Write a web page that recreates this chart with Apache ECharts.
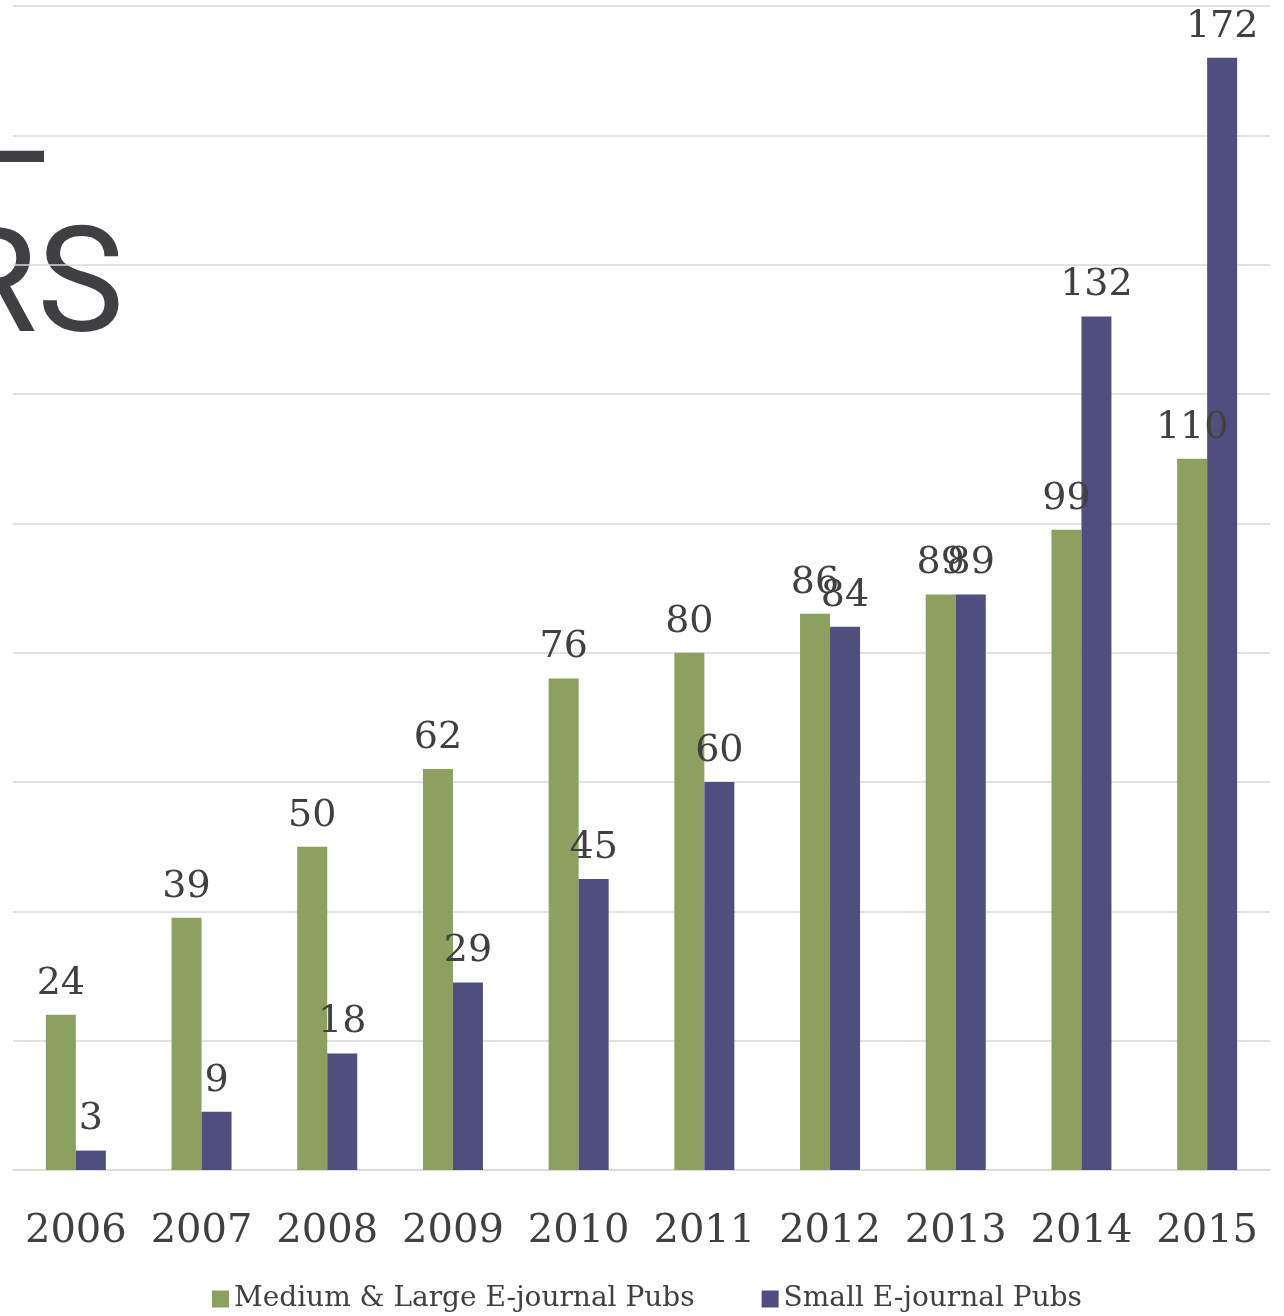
<!DOCTYPE html>
<html>
<head>
<meta charset="utf-8">
<script src="https://cdn.jsdelivr.net/npm/echarts@6/dist/echarts.min.js"></script>
<style>
html,body{margin:0;padding:0;background:#fff;}
#chart{width:1284px;height:1316px;}
</style>
</head>
<body>
<div id="chart"></div>
<script>
const years = ['2006','2007','2008','2009','2010','2011','2012','2013','2014','2015'];
const seriesNames = ['Medium & Large E-journal Pubs','Small E-journal Pubs'];
const mediumLarge = [24, 39, 50, 62, 76, 80, 86, 89, 99, 110];
const small = [3, 9, 18, 29, 45, 60, 84, 89, 132, 172];
const titleFragments = ['L', 'RS'];

const chart = echarts.init(document.getElementById('chart'), null, {renderer:'canvas'});
const textColor = '#404040';
const labelFont = 'DejaVu Serif';
const label = {
  show: true, position: 'top', distance: 12,
  color: textColor, fontFamily: labelFont, fontSize: 38
};
chart.setOption({
  animation: false,
  backgroundColor: '#ffffff',
  graphic: [
    {type:'text', x: -31, y: 198, style:{text: titleFragments[0], font:'400 146px Roboto', fill:'#404042', textAlign:'left', textVerticalAlign:'bottom'}},
    {type:'text', x: 124, y: 367, style:{text: titleFragments[1], font:'400 146px Roboto', fill:'#404042', textAlign:'right', textVerticalAlign:'bottom'}}
  ],
  grid: {left: 13, right: 14, top: 6, bottom: 146, containLabel: false},
  legend: {
    data: seriesNames, left: 212, top: 1285, padding: 0,
    itemWidth: 17, itemHeight: 17, itemGap: 67, icon: 'rect',
    textStyle: {color: textColor, fontFamily: 'DejaVu Serif', fontSize: 28, padding: [0,0,0,0]}
  },
  xAxis: {
    type: 'category', data: years,
    axisLine: {show: true, lineStyle: {color: '#d9d9d9', width: 1.5}},
    axisTick: {show: false},
    axisLabel: {interval: 0, color: textColor, fontFamily: labelFont, fontSize: 40, margin: 42}
  },
  yAxis: {
    type: 'value', min: 0, max: 180, interval: 20,
    axisLine: {show: false}, axisTick: {show: false}, axisLabel: {show: false},
    splitLine: {lineStyle: {color: '#d9d9d9', width: 1.5}}
  },
  series: [
    {name: seriesNames[0], type: 'bar', data: mediumLarge, barWidth: 30, barGap: '0%',
     itemStyle: {color: '#8ca060'}, label: label},
    {name: seriesNames[1], type: 'bar', data: small, barWidth: 30, barGap: '0%',
     itemStyle: {color: '#4e4f7f'}, label: label}
  ]
});
</script>
</body>
</html>
